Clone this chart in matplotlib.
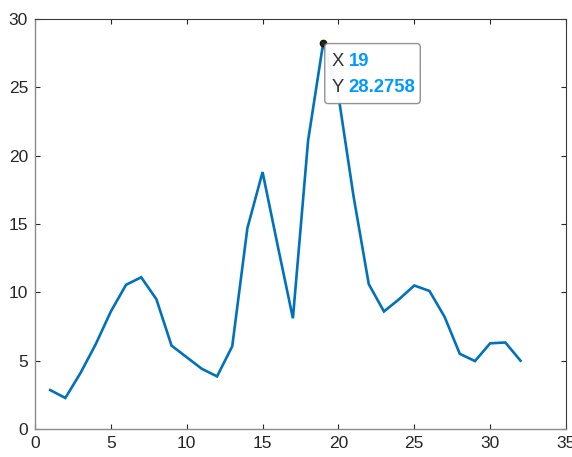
import numpy as np
import matplotlib
matplotlib.use("Agg")
import matplotlib.pyplot as plt
from matplotlib.patches import FancyBboxPatch
from matplotlib.transforms import ScaledTranslation

plt.rcParams["font.family"] = ["Liberation Sans", "DejaVu Sans"]

# sample index and measured values
x = np.arange(1, 33)
y = [2.85, 2.27, 4.1, 6.2, 8.6, 10.55, 11.1, 9.5, 6.1, 5.25, 4.4, 3.85,
     6.05, 14.7, 18.8, 13.4, 8.1, 21.1, 28.2758, 24.4, 17.0, 10.6, 8.6,
     9.5, 10.5, 10.1, 8.2, 5.5, 4.97, 6.27, 6.33, 5.0]

x_ticks = [0, 5, 10, 15, 20, 25, 30, 35]
y_ticks = [0, 5, 10, 15, 20, 25, 30]

# data tip location
tip_x = 19
tip_y = 28.2758

LINE = "#0072BD"
AX_DARK = "#262626"
TIP_BLUE = "#0099FF"

fig = plt.figure(figsize=(5.72, 4.57), dpi=100)
ax = fig.add_axes([35 / 572, 1 - 429 / 457, (566 - 35) / 572, (429 - 19) / 457])

ax.plot(x, y, color=LINE, linewidth=1.9, solid_joinstyle="miter", zorder=2)

ax.set_xlim(0, 35)
ax.set_ylim(0, 30)
ax.set_xticks(x_ticks)
ax.set_yticks(y_ticks)
ax.tick_params(direction="in", length=3.5, width=0.8, color=AX_DARK,
               labelcolor=AX_DARK, labelsize=12.5, pad=5,
               top=True, right=True)
for side in ("left", "bottom"):
    ax.spines[side].set_color("#8a8a8a")
    ax.spines[side].set_linewidth(1.0)
for side in ("top", "right"):
    ax.spines[side].set_color("#3a3a3a")
    ax.spines[side].set_linewidth(0.8)

# data tip: marker plus label box hanging below-right of the point
ax.plot([tip_x], [tip_y], marker="o", markersize=4.5, color="#2a2a1a",
        markeredgecolor="#111111", zorder=4, clip_on=False)
tip_trans = fig.dpi_scale_trans + ScaledTranslation(tip_x, tip_y, ax.transData)
box = FancyBboxPatch((0.015, -0.61), 0.955, 0.60,
                     boxstyle="round,pad=0,rounding_size=0.035",
                     transform=tip_trans, facecolor="white", alpha=0.95,
                     edgecolor="#8c8c8c", linewidth=1.0, zorder=5, clip_on=False)
ax.add_artist(box)
for row, (name, val) in enumerate([("X", f"{tip_x}"), ("Y", f"{tip_y:g}")]):
    ty = -0.19 - row * 0.255
    ax.text(0.08, ty, name, transform=tip_trans, color="#333333",
            fontsize=13.3, va="center", ha="left", zorder=6, clip_on=False)
    ax.text(0.255, ty, val, transform=tip_trans, color=TIP_BLUE,
            fontsize=13.3, fontweight="bold", va="center", ha="left",
            zorder=6, clip_on=False)

fig.savefig("out.png", dpi=100)
